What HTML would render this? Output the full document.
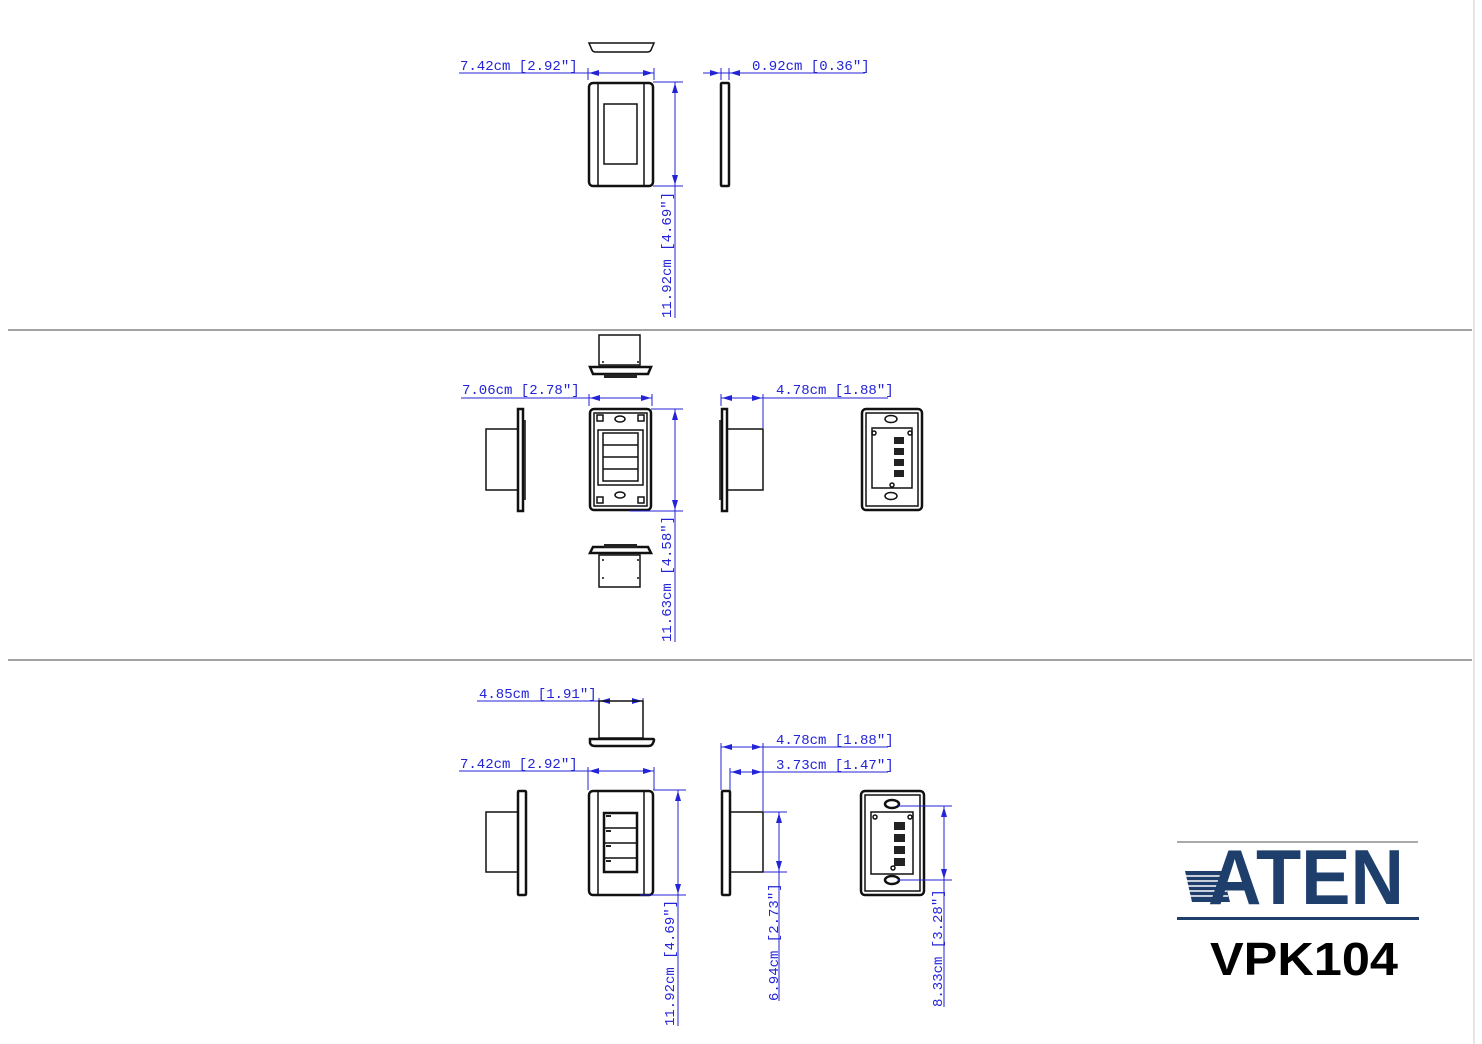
<!DOCTYPE html>
<html><head><meta charset="utf-8"><style>
html,body{margin:0;padding:0;background:#fff;}
svg{display:block;}
.d{font-family:"Liberation Mono",monospace;font-size:14px;fill:#2323d8;}
.b{stroke:#2323d8;stroke-width:1;fill:none;}
.k{stroke:#111;stroke-width:1.5;fill:none;}
.k2{stroke:#111;stroke-width:2.5;fill:none;}
.a{fill:#2323d8;}
</style></head><body>
<svg width="1482" height="1044" viewBox="0 0 1482 1044" xmlns="http://www.w3.org/2000/svg">
<defs>
<marker id="ar" markerWidth="10" markerHeight="6" refX="10" refY="3" orient="auto-start-reverse" markerUnits="userSpaceOnUse"><path d="M0,0 L10,3 L0,6z" fill="#2323d8"/></marker>
</defs>
<!-- separators -->
<line x1="8" y1="330" x2="1472" y2="330" stroke="#444" stroke-width="1"/>
<line x1="8" y1="660" x2="1472" y2="660" stroke="#444" stroke-width="1"/>
<line x1="1474" y1="0" x2="1474" y2="1044" stroke="#ccc" stroke-width="1"/>

<!-- ===== TOP SECTION ===== -->
<path class="k" d="M589,43 L654,43 L651,50 Q650,52 647,52 L596,52 Q593,52 592,50 Z"/>
<line class="b" x1="459" y1="73" x2="654" y2="73"/>
<line class="b" x1="589" y1="73" x2="653" y2="73" marker-start="url(#ar)" marker-end="url(#ar)"/>
<line class="b" x1="588" y1="68" x2="588" y2="80"/><line class="b" x1="654" y1="68" x2="654" y2="80"/>
<text class="d" x="460" y="70">7.42cm [2.92″]</text>
<rect class="k2" x="589" y="83" width="64" height="103" rx="4"/>
<line class="k" x1="598" y1="84" x2="598" y2="185"/><line class="k" x1="644" y1="84" x2="644" y2="185"/>
<rect class="k" x="604" y="104" width="33" height="60"/>
<line class="b" x1="653" y1="82" x2="683" y2="82"/><line class="b" x1="653" y1="186" x2="683" y2="186"/>
<line class="b" x1="675" y1="82" x2="675" y2="318"/>
<line class="b" x1="675" y1="83" x2="675" y2="185" marker-start="url(#ar)" marker-end="url(#ar)"/>
<text class="d" transform="translate(671,318) rotate(-90)">11.92cm [4.69″]</text>
<rect class="k2" x="721" y="83" width="8" height="103" rx="1"/>
<line class="b" x1="703" y1="73" x2="865" y2="73"/>
<line class="b" x1="703" y1="73" x2="720" y2="73" marker-end="url(#ar)"/>
<line class="b" x1="745" y1="73" x2="730" y2="73" marker-end="url(#ar)"/>
<line class="b" x1="721" y1="68" x2="721" y2="80"/><line class="b" x1="729" y1="68" x2="729" y2="80"/>
<text class="d" x="752" y="70">0.92cm [0.36″]</text>

<!-- ===== MIDDLE SECTION ===== -->
<rect class="k" x="599" y="335" width="41" height="30"/>
<circle cx="603" cy="362" r="1" fill="#111"/><circle cx="638" cy="362" r="1" fill="#111"/>
<path class="k2" d="M590,367 L651,367 L648,374 L593,374 Z"/>
<rect x="604" y="374" width="33" height="4" fill="#222"/>
<line class="b" x1="461" y1="398" x2="652" y2="398"/>
<line class="b" x1="590" y1="398" x2="651" y2="398" marker-start="url(#ar)" marker-end="url(#ar)"/>
<line class="b" x1="589" y1="394" x2="589" y2="406"/><line class="b" x1="652" y1="394" x2="652" y2="406"/>
<text class="d" x="462" y="394">7.06cm [2.78″]</text>
<!-- front -->
<rect class="k2" x="590" y="409" width="61" height="101" rx="4"/>
<rect class="k" x="594" y="413" width="53" height="93"/>
<rect class="k" x="598" y="430" width="45" height="55"/>
<rect x="603" y="433" width="35" height="48" fill="none" stroke="#111" stroke-width="1.5"/>
<line class="k" x1="603" y1="445" x2="638" y2="445"/><line class="k" x1="603" y1="457" x2="638" y2="457"/><line class="k" x1="603" y1="469" x2="638" y2="469"/>
<ellipse class="k" cx="620" cy="419" rx="5" ry="3"/><ellipse class="k" cx="620" cy="495" rx="5" ry="3"/>
<rect class="k" x="597" y="415" width="6" height="6"/><rect class="k" x="638" y="415" width="6" height="6"/>
<rect class="k" x="597" y="497" width="6" height="6"/><rect class="k" x="638" y="497" width="6" height="6"/>
<line class="b" x1="651" y1="409" x2="683" y2="409"/><line class="b" x1="630" y1="511" x2="683" y2="511"/>
<line class="b" x1="675" y1="409" x2="675" y2="642"/>
<line class="b" x1="675" y1="410" x2="675" y2="510" marker-start="url(#ar)" marker-end="url(#ar)"/>
<text class="d" transform="translate(671,642) rotate(-90)">11.63cm [4.58″]</text>
<!-- left side -->
<rect class="k" x="486" y="429" width="32" height="61"/>
<rect class="k2" x="518" y="409" width="5" height="102"/>
<line class="k" x1="525" y1="420" x2="525" y2="500"/>
<!-- right side -->
<rect class="k2" x="722" y="409" width="5" height="102"/>
<line class="k" x1="720" y1="420" x2="720" y2="500"/>
<rect class="k" x="727" y="429" width="36" height="61"/>
<line class="b" x1="721" y1="398" x2="888" y2="398"/>
<line class="b" x1="722" y1="398" x2="762" y2="398" marker-start="url(#ar)" marker-end="url(#ar)"/>
<line class="b" x1="721" y1="394" x2="721" y2="406"/><line class="b" x1="763" y1="394" x2="763" y2="428"/>
<text class="d" x="776" y="394">4.78cm [1.88″]</text>
<!-- rear -->
<rect class="k2" x="862" y="409" width="60" height="101" rx="4"/>
<rect class="k" x="866" y="413" width="52" height="93"/>
<rect class="k" x="872" y="428" width="40" height="60"/>
<ellipse class="k" cx="891" cy="419" rx="6" ry="3.5"/><ellipse class="k" cx="891" cy="496" rx="6" ry="3.5"/>
<circle class="k" cx="874" cy="433" r="2"/><circle class="k" cx="910" cy="433" r="2"/><circle class="k" cx="892" cy="485" r="2"/>
<rect x="894" y="437" width="10" height="7" fill="#222"/><rect x="894" y="448" width="10" height="7" fill="#222"/>
<rect x="894" y="459" width="10" height="7" fill="#222"/><rect x="894" y="470" width="10" height="7" fill="#222"/>
<!-- bottom view -->
<path class="k2" d="M590,553 L651,553 L648,547 L593,547 Z"/>
<rect x="604" y="544" width="33" height="4" fill="#222"/>
<rect class="k" x="599" y="555" width="41" height="32"/>
<circle cx="603" cy="560" r="1" fill="#111"/><circle cx="638" cy="560" r="1" fill="#111"/>
<circle cx="603" cy="578" r="1" fill="#111"/><circle cx="638" cy="578" r="1" fill="#111"/>

<!-- ===== BOTTOM SECTION ===== -->
<line class="b" x1="477" y1="701" x2="643" y2="701"/>
<line class="b" x1="600" y1="701" x2="642" y2="701" marker-start="url(#ar)" marker-end="url(#ar)"/>
<line class="b" x1="599" y1="698" x2="599" y2="738"/><line class="b" x1="643" y1="698" x2="643" y2="738"/>
<text class="d" x="479" y="698">4.85cm [1.91″]</text>
<rect class="k" x="599" y="701" width="44" height="37"/>
<path class="k2" d="M590,739 L653,739 Q655,739 653,743 Q652,746 648,746 L595,746 Q591,746 590,743 Z"/>
<line class="b" x1="459" y1="771" x2="654" y2="771"/>
<line class="b" x1="589" y1="771" x2="653" y2="771" marker-start="url(#ar)" marker-end="url(#ar)"/>
<line class="b" x1="588" y1="767" x2="588" y2="790"/><line class="b" x1="654" y1="767" x2="654" y2="790"/>
<text class="d" x="460" y="768">7.42cm [2.92″]</text>
<!-- front -->
<rect class="k2" x="589" y="791" width="64" height="104" rx="4"/>
<line class="k" x1="598" y1="792" x2="598" y2="894"/><line class="k" x1="644" y1="792" x2="644" y2="894"/>
<rect class="k2" x="604" y="813" width="33" height="59"/>
<line class="k" x1="604" y1="828" x2="637" y2="828"/><line class="k" x1="604" y1="843" x2="637" y2="843"/><line class="k" x1="604" y1="858" x2="637" y2="858"/>
<rect x="606" y="815" width="5" height="2" fill="#222"/><rect x="606" y="830" width="5" height="2" fill="#222"/><rect x="606" y="845" width="5" height="2" fill="#222"/><rect x="606" y="860" width="5" height="2" fill="#222"/>
<line class="b" x1="653" y1="790" x2="686" y2="790"/><line class="b" x1="640" y1="895" x2="686" y2="895"/>
<line class="b" x1="678" y1="790" x2="678" y2="1026"/>
<line class="b" x1="678" y1="791" x2="678" y2="894" marker-start="url(#ar)" marker-end="url(#ar)"/>
<text class="d" transform="translate(674,1026) rotate(-90)">11.92cm [4.69″]</text>
<!-- left side -->
<rect class="k" x="486" y="812" width="32" height="60"/>
<rect class="k2" x="518" y="791" width="8" height="104" rx="1"/>
<!-- right side -->
<rect class="k2" x="722" y="791" width="8" height="104" rx="1"/>
<rect class="k" x="730" y="812" width="33" height="60"/>
<line class="b" x1="721" y1="747" x2="888" y2="747"/>
<line class="b" x1="722" y1="747" x2="762" y2="747" marker-start="url(#ar)" marker-end="url(#ar)"/>
<line class="b" x1="730" y1="772" x2="888" y2="772"/>
<line class="b" x1="731" y1="772" x2="762" y2="772" marker-start="url(#ar)" marker-end="url(#ar)"/>
<line class="b" x1="721" y1="743" x2="721" y2="790"/><line class="b" x1="763" y1="743" x2="763" y2="811"/><line class="b" x1="730" y1="768" x2="730" y2="790"/>
<text class="d" x="776" y="744">4.78cm [1.88″]</text>
<text class="d" x="776" y="769">3.73cm [1.47″]</text>
<line class="b" x1="763" y1="812" x2="787" y2="812"/><line class="b" x1="763" y1="872" x2="787" y2="872"/>
<line class="b" x1="779" y1="812" x2="779" y2="1001"/>
<line class="b" x1="779" y1="813" x2="779" y2="871" marker-start="url(#ar)" marker-end="url(#ar)"/>
<text class="d" transform="translate(778,1001) rotate(-90)">6.94cm [2.73″]</text>
<!-- rear -->
<rect class="k2" x="861" y="791" width="63" height="104" rx="4"/>
<rect class="k" x="865" y="795" width="55" height="96"/>
<rect class="k" x="871" y="812" width="42" height="62"/>
<ellipse class="k2" cx="892" cy="804" rx="7" ry="4"/><ellipse class="k2" cx="892" cy="880" rx="7" ry="4"/>
<circle class="k" cx="875" cy="817" r="2"/><circle class="k" cx="910" cy="817" r="2"/><circle class="k" cx="893" cy="868" r="2"/>
<rect x="894" y="822" width="11" height="8" fill="#222"/><rect x="894" y="834" width="11" height="8" fill="#222"/>
<rect x="894" y="846" width="11" height="8" fill="#222"/><rect x="894" y="858" width="11" height="8" fill="#222"/>
<line class="b" x1="898" y1="806" x2="952" y2="806"/><line class="b" x1="898" y1="880" x2="952" y2="880"/>
<line class="b" x1="944" y1="806" x2="944" y2="1007"/>
<line class="b" x1="944" y1="807" x2="944" y2="879" marker-start="url(#ar)" marker-end="url(#ar)"/>
<text class="d" transform="translate(942,1007) rotate(-90)">8.33cm [3.28″]</text>

<!-- ===== LOGO ===== -->
<line x1="1177" y1="842" x2="1418" y2="842" stroke="#555" stroke-width="1"/>
<g fill="#1e3e6c">
<polygon points="1185,871 1222,871 1230,902 1192,902"/>
</g>
<g stroke="#fff" stroke-width="1.6">
<line x1="1186" y1="876" x2="1224" y2="876"/><line x1="1187" y1="881" x2="1225" y2="881"/>
<line x1="1188" y1="886" x2="1226" y2="886"/><line x1="1189" y1="891" x2="1227" y2="891"/><line x1="1190" y1="896" x2="1228" y2="896"/>
</g>
<text x="1208" y="904" font-family="Liberation Sans, sans-serif" font-weight="bold" font-size="78" fill="#1e3e6c" textLength="196" lengthAdjust="spacingAndGlyphs">ATEN</text>
<rect x="1177" y="917" width="242" height="3" fill="#1e3e6c"/>
<text x="1210" y="975" font-family="Liberation Sans, sans-serif" font-weight="bold" font-size="46" fill="#000" textLength="188" lengthAdjust="spacingAndGlyphs">VPK104</text>
</svg>
</body></html>
